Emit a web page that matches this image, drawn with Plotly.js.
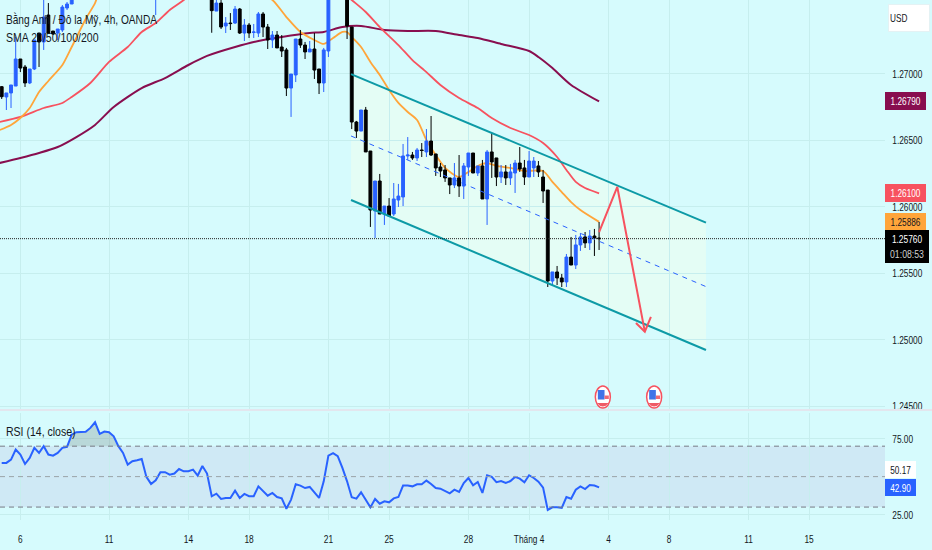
<!DOCTYPE html>
<html><head><meta charset="utf-8">
<script src="https://cdn.plot.ly/plotly-3.0.1.min.js"></script>
<style>html,body{margin:0;padding:0;background:#d6fbfd}#c{width:932px;height:550px}</style></head>
<body><div id="c"></div>
<script>
const opens=[1.26901,1.26824,1.26854,1.26906,1.27109,1.27049,1.26929,1.27034,1.27304,1.27237,1.27439,1.27319,1.27304,1.27327,1.27492,1.27522,
1.2757,1.2766,1.2772,1.2780,1.2786,1.2795,1.2784,1.2792,1.2798,1.2804,1.2800,1.2808,1.2825,1.2815,1.2820,1.2828,1.2795,1.2780,1.2785,1.2792,1.2790,1.2795,1.2800,1.2805,1.2796,1.2800,1.2803,1.2785,1.2795,
1.2768,1.27469,1.27529,1.27357,1.27379,1.27379,1.27484,1.27304,1.27364,1.27308,1.27304,1.27447,1.27349,1.27252,1.27289,1.27199,1.27177,1.26891,1.26989,1.27259,1.27214,1.27162,1.27184,1.27034,1.26929,1.27169,
1.2775,1.2785,1.2790,1.2770,1.27349,1.26636,1.26568,1.26726,1.26418,1.25968,1.26193,1.25945,1.26005,1.25945,1.26050,1.26073,1.26381,1.26388,1.26366,1.26426,1.26411,1.26493,1.26396,1.26298,1.26276,1.26216,1.26163,1.26216,1.26155,1.26298,1.26403,1.26253,1.26306,1.26058,1.26411,1.26366,1.26223,1.26261,1.26216,1.26253,1.26328,1.26291,1.26223,1.26291,1.26306,1.26223,1.26125,1.25442,1.25510,1.25465,1.25435,1.25622,1.25562,1.25713,1.25773,1.25728,1.25780,1.25765];
const highs=[1.26906,1.26854,1.26914,1.27274,1.27109,1.27064,1.27034,1.27252,1.27304,1.27600,1.27529,1.27319,1.27334,1.27514,1.27537,1.27600,
1.2768,1.2775,1.2785,1.2790,1.2800,1.2800,1.2795,1.2805,1.2810,1.2815,1.2812,1.2830,1.2840,1.2828,1.2835,1.2832,1.2805,1.2790,1.2798,1.2800,1.2802,1.2805,1.2810,1.2808,1.2806,1.2812,1.2808,1.2800,1.2798,
1.2775,1.27552,1.27552,1.27424,1.27454,1.27507,1.27492,1.27409,1.27379,1.27372,1.27462,1.27462,1.27372,1.27319,1.27319,1.27289,1.27192,1.26996,1.27259,1.27327,1.27237,1.27244,1.27304,1.27034,1.27192,1.2780,
1.2790,1.2800,1.2795,1.2775,1.27349,1.26644,1.26726,1.26749,1.26418,1.26193,1.26246,1.26005,1.26065,1.26178,1.26171,1.26471,1.26523,1.26411,1.26441,1.26478,1.26583,1.26681,1.26396,1.26328,1.26313,1.26216,1.26328,1.26388,1.26328,1.26403,1.26403,1.26306,1.26351,1.26426,1.26553,1.26366,1.26313,1.26313,1.26321,1.26351,1.26448,1.26351,1.26418,1.26373,1.26343,1.26276,1.26125,1.25510,1.25555,1.25495,1.25645,1.25773,1.25788,1.25803,1.25810,1.25825,1.25833,1.25885];
const lows=[1.26809,1.26726,1.26741,1.26906,1.27011,1.26899,1.26921,1.27026,1.27049,1.27177,1.27297,1.27289,1.27252,1.27312,1.27477,1.27522,
1.2756,1.2762,1.2768,1.2775,1.2782,1.2778,1.2780,1.2785,1.2790,1.2795,1.2792,1.2803,1.2810,1.2800,1.2812,1.2790,1.2775,1.27439,1.2778,1.2785,1.2783,1.2787,1.2790,1.2792,1.2788,1.2790,1.2780,1.2778,1.2768,
1.27306,1.27469,1.27334,1.27304,1.27327,1.27372,1.27297,1.27244,1.27267,1.27267,1.27274,1.27274,1.27184,1.27192,1.27192,1.27124,1.26831,1.26674,1.26936,1.27192,1.27109,1.27162,1.26959,1.26846,1.26861,1.27124,
1.2768,1.2775,1.2765,1.27259,1.26583,1.26516,1.26568,1.26411,1.25848,1.25765,1.25945,1.25863,1.25923,1.25930,1.25998,1.26005,1.26351,1.26351,1.26343,1.26373,1.26373,1.26381,1.26231,1.26223,1.26186,1.26095,1.26140,1.26073,1.26058,1.26231,1.26253,1.26231,1.26058,1.25863,1.26216,1.26155,1.26178,1.26163,1.26163,1.26103,1.26261,1.26163,1.26223,1.26223,1.26223,1.26028,1.25397,1.25412,1.25412,1.25397,1.25397,1.25562,1.25532,1.25668,1.25690,1.25675,1.25630,1.25675];
const closes=[1.26826,1.26854,1.26914,1.27109,1.27041,1.26929,1.27034,1.27252,1.27237,1.27424,1.27304,1.27297,1.27334,1.27499,1.27522,1.27567,
1.2766,1.2772,1.2780,1.2786,1.2795,1.2784,1.2792,1.2798,1.2804,1.2800,1.2808,1.2825,1.2815,1.2820,1.2828,1.2795,1.2780,1.2785,1.2792,1.2790,1.2795,1.2800,1.2805,1.2796,1.2800,1.2803,1.2785,1.2795,1.2772,
1.27472,1.27529,1.27349,1.27379,1.27375,1.27484,1.27304,1.27364,1.27304,1.27312,1.27447,1.27349,1.27252,1.27289,1.27192,1.27169,1.26891,1.26996,1.27259,1.27214,1.27162,1.27184,1.27026,1.26929,1.27177,1.2775,
1.2785,1.2790,1.2770,1.27357,1.26636,1.26568,1.26726,1.26411,1.25975,1.26193,1.25945,1.26005,1.25930,1.26058,1.26080,1.26381,1.26388,1.26366,1.26426,1.26422,1.26493,1.26388,1.26291,1.26268,1.26216,1.26163,1.26216,1.26155,1.26306,1.26403,1.26253,1.26306,1.26058,1.26411,1.26336,1.26223,1.26261,1.26216,1.26261,1.26328,1.26283,1.26223,1.26343,1.26343,1.26261,1.26118,1.25442,1.25510,1.25465,1.25435,1.25622,1.25562,1.25713,1.25773,1.25728,1.25780,1.25765,1.25760];

const sma20X=[-1,2,4,6,8,10,13,15,18,20,21,35,45,50,55,58,61,64,67,69,71,73,74,75,77,79,81,83,85,87,89,91,93,95,98,100,102,104,106,109,112,116,118,120,122,124,128];
const sma20Y=[1.26568,1.26614,1.26666,1.26741,1.26861,1.26944,1.27064,1.27199,1.27409,1.27529,1.27612,1.2800,1.2790,1.2770,1.2760,1.27552,1.27424,1.27312,1.27252,1.27222,1.27267,1.27312,1.27312,1.27274,1.27199,1.27087,1.26989,1.26876,1.26779,1.26711,1.26651,1.26501,1.26388,1.26291,1.26223,1.26261,1.26306,1.26328,1.26306,1.26291,1.26268,1.26268,1.26186,1.26110,1.26035,1.25975,1.25886];
const sma50X=[-1,4,9,13,15,19,23,27,30,33,36,39,50,60,70,75,78,81,85,88,91,94,98,102,105,109,113,116,119,121,123,125,128];
const sma50Y=[1.26632,1.26674,1.26741,1.26779,1.26824,1.26929,1.27087,1.27199,1.27312,1.27379,1.27477,1.27552,1.2790,1.2790,1.2770,1.27552,1.27462,1.27349,1.27214,1.27101,1.27011,1.26914,1.26816,1.26741,1.26666,1.26591,1.26538,1.26478,1.26373,1.26276,1.26186,1.26140,1.26100];
const sma200X=[-1,4,8,12,16,20,24,30,35,40,44,50,55,60,66,69,73,77,82,87,93,98,102,107,113,115,118,122,128];
const sma200Y=[1.26324,1.26366,1.26403,1.26448,1.26523,1.26614,1.26749,1.26891,1.26966,1.27064,1.27132,1.27199,1.27244,1.27274,1.27304,1.27312,1.27349,1.27357,1.27327,1.27319,1.27319,1.27289,1.27267,1.27222,1.27169,1.27124,1.27041,1.26914,1.26790];

const rsi=[59.0,59.0,61.2,67.8,64.5,58.3,62.3,68.9,65.6,70.0,64.5,63.8,65.6,68.9,69.5,77.6,79.2,79.2,79.4,82.0,85.7,78.1,79.6,79.2,76.5,70.0,65.6,57.9,60.1,60.7,61.6,49.8,45.2,47.6,52.9,52.9,51.3,52.0,55.0,53.5,53.5,54.6,50.7,57.0,52.0,37.1,38.8,35.3,36.0,36.0,40.8,36.0,38.6,37.1,37.1,43.6,40.4,37.5,39.3,36.6,35.7,28.9,34.9,45.0,44.1,42.5,43.2,39.3,36.0,46.9,63.8,65.4,63.4,55.7,46.9,36.4,35.5,39.7,34.9,29.8,35.3,32.2,33.8,33.1,35.7,36.6,44.1,44.1,43.6,45.0,45.0,47.4,45.2,42.5,42.1,40.4,39.0,41.4,39.9,45.8,49.1,44.3,46.5,39.3,50.9,49.8,46.3,47.1,45.8,47.1,49.8,48.7,46.3,50.9,49.1,46.7,42.8,28.1,29.8,29.8,29.4,36.6,35.5,41.4,43.6,41.8,44.5,44.1,42.90];
const overX=[14,15,16,17,18,19,20,21,22,23,24,25];
const overY=[70,77.6,79.2,79.2,79.4,82.0,85.7,78.1,79.6,79.2,76.5,70];
const overBase=[70,70,70,70,70,70,70,70,70,70,70,70];

const tickIdx=[4,23,40,53,70,83,100,113,130,143,160,173];
const tickText=['6','11','14','18','21','25','28','Tháng 4','4','8','11','15'];
const priceTicks=[1.245,1.25,1.255,1.26,1.265,1.27];
const priceText=['1.24500','1.25000','1.25500','1.26000','1.26500','1.27000'];

const chanX=[74.85,150.9];
const chanTop=[1.26996,1.25880];
const chanMid=[1.26531,1.25400];
const chanBot=[1.26050,1.24924];
const arrowX=[128,131.9,137.8];
const arrowY=[1.25810,1.26148,1.25062];
const headX=[135.9,137.8,139.1];
const headY=[1.25127,1.25062,1.25172];
const lastPrice=1.25760;
const eventBars=[128.8,139.8];
const eventPrice=1.24571;

const INK='#131722', BLUE='#2962ff', TEAL='#0d9aa6', RED='#f7525f', ORANGE='#ffa53a', MAROON='#880e4f', GRID='#c6eeee';
const FONT='"Liberation Sans",Arial,sans-serif';
const XR=[-0.364,189.26], YR=[1.24466,1.27552], YD=[0.2096,1];
const smooth={shape:'spline',smoothing:0.7};

const traces=[
 {type:'scatter',mode:'lines',x:sma200X,y:sma200Y,line:{color:MAROON,width:2,...smooth},xaxis:'x',yaxis:'y',hoverinfo:'skip'},
 {type:'scatter',mode:'lines',x:sma50X,y:sma50Y,line:{color:RED,width:1.8,...smooth},xaxis:'x',yaxis:'y',hoverinfo:'skip'},
 {type:'scatter',mode:'lines',x:sma20X,y:sma20Y,line:{color:ORANGE,width:1.8,...smooth},xaxis:'x',yaxis:'y',hoverinfo:'skip'},
 {type:'candlestick',x:opens.map((_,i)=>i),open:opens,high:highs,low:lows,close:closes,xaxis:'x3',yaxis:'y3',
  increasing:{line:{color:BLUE,width:1},fillcolor:BLUE},decreasing:{line:{color:'#000',width:1},fillcolor:'#000'},whiskerwidth:0,showlegend:false,hoverinfo:'skip'},
 {type:'scatter',mode:'lines',x:chanX,y:chanTop,line:{color:TEAL,width:2},xaxis:'x4',yaxis:'y4',hoverinfo:'skip'},
 {type:'scatter',mode:'lines',x:chanX,y:chanBot,line:{color:TEAL,width:2},xaxis:'x4',yaxis:'y4',hoverinfo:'skip'},
 {type:'scatter',mode:'lines',x:chanX,y:chanMid,line:{color:BLUE,width:1,dash:'5px,5px'},xaxis:'x4',yaxis:'y4',hoverinfo:'skip'},
 {type:'scatter',mode:'lines',x:arrowX,y:arrowY,line:{color:RED,width:2},xaxis:'x4',yaxis:'y4',hoverinfo:'skip'},
 {type:'scatter',mode:'lines',x:headX,y:headY,line:{color:RED,width:2},xaxis:'x4',yaxis:'y4',hoverinfo:'skip'},
 {type:'scatter',mode:'lines',x:overX,y:overBase,line:{width:0},xaxis:'x',yaxis:'y2',hoverinfo:'skip'},
 {type:'scatter',mode:'lines',x:overX,y:overY,line:{width:0},fill:'tonexty',fillcolor:'rgba(110,125,125,0.28)',xaxis:'x',yaxis:'y2',hoverinfo:'skip'},
 {type:'scatter',mode:'lines',x:rsi.map((_,i)=>i),y:rsi,line:{color:BLUE,width:2},xaxis:'x',yaxis:'y2',hoverinfo:'skip'}
];

const shapes=[
 {type:'path',layer:'below',xref:'x',yref:'y',path:`M${chanX[0]},${chanTop[0]} L${chanX[1]},${chanTop[1]} L${chanX[1]},${chanBot[1]} L${chanX[0]},${chanBot[0]} Z`,fillcolor:'#e4fdf5',line:{width:0}},
 {type:'rect',layer:'below',xref:'paper',yref:'y2',x0:0,x1:1,y0:30,y1:70,fillcolor:'#cfe9f5',line:{width:0}},
 {type:'line',xref:'paper',yref:'y2',x0:0,x1:1,y0:70,y1:70,line:{color:'#787b86',width:1,dash:'5px,4px'}},
 {type:'line',xref:'paper',yref:'y2',x0:0,x1:1,y0:50,y1:50,line:{color:'#9aa3a8',width:1,dash:'5px,4px'}},
 {type:'line',xref:'paper',yref:'y2',x0:0,x1:1,y0:30,y1:30,line:{color:'#787b86',width:1,dash:'5px,4px'}},
 {type:'line',xref:'paper',yref:'y',x0:0,x1:1,y0:lastPrice,y1:lastPrice,line:{color:'#222',width:1,dash:'1px,1px'}},
 {type:'line',xref:'paper',yref:'paper',x0:0,x1:1.06,y0:0.2115,y1:0.2115,line:{color:'#e3e6ee',width:2}}
];
eventBars.forEach(b=>{
 const base={xref:'x',yref:'y',xsizemode:'pixel',ysizemode:'pixel',xanchor:b,yanchor:eventPrice};
 shapes.push({...base,type:'circle',x0:-7.5,x1:7.5,y0:-11,y1:11,fillcolor:'#ffffff',line:{color:RED,width:1.5}});
 shapes.push({...base,type:'rect',x0:-5,x1:1.7,y0:-2.5,y1:7,fillcolor:'#3f74e8',line:{width:0}});
 shapes.push({...base,type:'rect',x0:1.7,x1:6,y0:-2,y1:1.5,fillcolor:'#ee6a74',line:{width:0}});
 shapes.push({...base,type:'path',path:'M-6,-6 Q0,-13 6,-6 Z',fillcolor:'#ee5a66',line:{width:0}});
});

function tag(price,text,bg,fg,w,h){return {xref:'paper',yref:'y',x:1,y:price,xanchor:'left',yanchor:'middle',text:text,showarrow:false,bgcolor:bg,width:w,height:h,borderpad:0,borderwidth:0,font:{family:FONT,size:11,color:fg},align:'center'};}
function tagR(val,text,bg,fg){return {xref:'paper',yref:'y2',x:1,y:val,xanchor:'left',yanchor:'middle',text:text,showarrow:false,bgcolor:bg,width:31,height:17,borderpad:0,borderwidth:0,font:{family:FONT,size:11,color:fg},align:'center'};}
function note(px,py,text){return {xref:'paper',yref:'paper',x:px/885,y:(520-py)/520,xanchor:'left',yanchor:'middle',text:text,showarrow:false,font:{family:FONT,size:13,color:INK}};}

const annotations=[
 note(4,19.5,'Bằng Anh / Đô la Mỹ, 4h, OANDA'),
 note(4,37.5,'SMA 20/50/100/200'),
 note(4,432,'RSI (14, close)'),
 tag(1.26790,'1.26790',MAROON,'#fff',41,18),
 tag(1.26100,'1.26100',RED,'#fff',41,18),
 tag(1.25886,'1.25886',ORANGE,INK,41,18),
 tag(1.25700,'1.25760<br><span style="color:#cfcfcf;font-size:10px">01:08:53</span>','#000','#fff',44,33),
 tagR(54.9,'50.17','#fff',INK),
 tagR(43.1,'42.90',BLUE,'#fff'),
 {xref:'paper',yref:'paper',x:888/885,y:(520-18)/520,xanchor:'left',yanchor:'middle',text:'USD',showarrow:false,bgcolor:'#fff',bordercolor:'#e4f2f4',borderwidth:1,width:38,height:24,align:'left',font:{family:FONT,size:11,color:INK}}
];

const hiddenX={range:XR,overlaying:'x',visible:false,showgrid:false,zeroline:false,domain:[0,1],rangeslider:{visible:false}};
const hiddenY={range:YR,overlaying:'y',visible:false,showgrid:false,zeroline:false,domain:YD,side:'right'};
const tickFont={family:FONT,size:11.4,color:INK};
const layout={
 width:932,height:550,margin:{l:0,r:47,t:0,b:30},paper_bgcolor:'#d6fbfd',plot_bgcolor:'#d6fbfd',showlegend:false,hovermode:false,boxgap:0.12,
 xaxis:{anchor:'y2',domain:[0,1],range:XR,tickmode:'array',tickvals:tickIdx,ticktext:tickText,showgrid:true,gridcolor:GRID,gridwidth:1,zeroline:false,showline:false,ticks:'outside',ticklen:8,tickcolor:'rgba(0,0,0,0)',tickfont:tickFont,rangeslider:{visible:false}},
 yaxis:{domain:YD,range:YR,side:'right',anchor:'x',tickmode:'array',tickvals:priceTicks,ticktext:priceText,showgrid:true,gridcolor:GRID,gridwidth:1,zeroline:false,showline:false,ticks:'outside',ticklen:4,tickcolor:'rgba(0,0,0,0)',tickfont:tickFont},
 yaxis2:{domain:[0,0.2058],range:[21.5,91.8],side:'right',anchor:'x',tickmode:'array',tickvals:[25,75],ticktext:['25.00','75.00'],showgrid:true,gridcolor:GRID,gridwidth:1,zeroline:false,showline:false,ticks:'outside',ticklen:4,tickcolor:'rgba(0,0,0,0)',tickfont:tickFont},
 xaxis3:{...hiddenX,anchor:'y3'},yaxis3:{...hiddenY,anchor:'x3'},
 xaxis4:{...hiddenX,anchor:'y4'},yaxis4:{...hiddenY,anchor:'x4'},
 shapes:shapes,annotations:annotations
};
function squeeze(el,f){const L=el.getComputedTextLength();el.setAttribute('textLength',(L*f).toFixed(1));el.setAttribute('lengthAdjust','spacingAndGlyphs');return L;}
Plotly.newPlot('c',traces,layout,{staticPlot:true,displayModeBar:false}).then(()=>{
 document.querySelectorAll('.xtick text,.ytick text,.y2tick text').forEach(t=>squeeze(t,0.73));
 document.querySelectorAll('.annotation-text').forEach(t=>{
  const lines=t.querySelectorAll('tspan.line');
  if(/OANDA|SMA|RSI/.test(t.textContent)){
   const f=/OANDA/.test(t.textContent)?0.78:0.81;
   const L=squeeze(t,f);
   t.setAttribute('x',(parseFloat(t.getAttribute('x'))-L*(1-f)/2).toFixed(1));
  } else if(lines.length){squeeze(lines[0],0.76);squeeze(lines[1],0.87);}
  else{squeeze(t,0.75);}
 });
});
</script></body></html>
